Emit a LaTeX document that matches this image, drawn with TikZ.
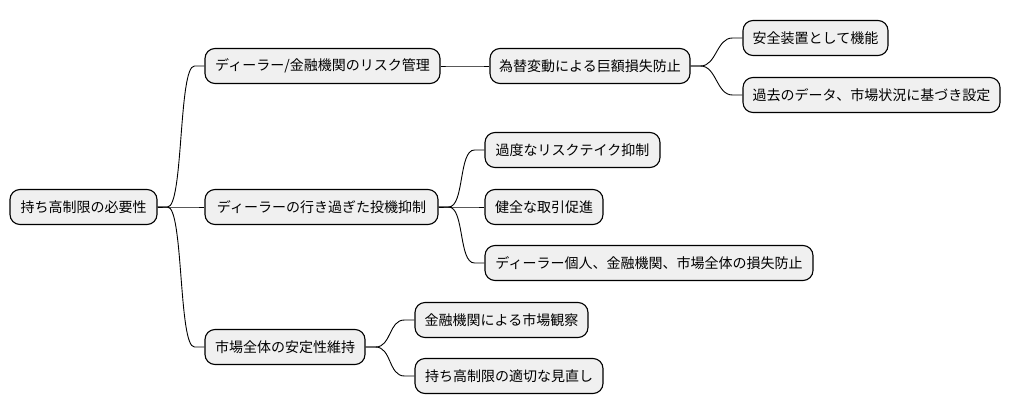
\documentclass[tikz,border=0pt]{standalone}
\usepackage{fontspec}
\setmainfont{Noto Sans CJK JP}
\newcommand\mmlink[2]{\draw[conn] (#1.east) -- ++(10,0) .. controls +(16,0) and ([xshift=-26pt]#2.west) .. ([xshift=-10pt]#2.west) -- (#2.west);}
\begin{document}
\begin{tikzpicture}[x=1pt,y=-1pt,
  box/.style={draw=black, line width=1.1pt, fill=gray!12, rounded corners=10pt,
    minimum height=35pt, inner sep=0pt, font=\fontsize{14}{16}\selectfont},
  conn/.style={draw=black, line width=0.9pt}]
\useasboundingbox (0,0) rectangle (1011,415);
\node[box, minimum width=147pt] (root) at (83.5,207) {持ち高制限の必要性};
\node[box, minimum width=235pt] (a) at (322.5,66) {ディーラー/金融機関のリスク管理};
\node[box, minimum width=233pt] (b) at (321.5,207) {ディーラーの行き過ぎた投機抑制};
\node[box, minimum width=160pt] (c) at (285,347) {市場全体の安定性維持};
\node[box, minimum width=200pt] (a1) at (590,66) {為替変動による巨額損失防止};
\node[box, minimum width=145pt] (a1a) at (815.5,38) {安全装置として機能};
\node[box, minimum width=257pt] (a1b) at (871.5,95) {過去のデータ、市場状況に基づき設定};
\node[box, minimum width=175pt] (b1) at (572.5,150) {過度なリスクテイク抑制};
\node[box, minimum width=118pt] (b2) at (544,207) {健全な取引促進};
\node[box, minimum width=328pt] (b3) at (649,263) {ディーラー個人、金融機関、市場全体の損失防止};
\node[box, minimum width=173pt] (c1) at (501.5,320) {金融機関による市場観察};
\node[box, minimum width=188pt] (c2) at (509,376) {持ち高制限の適切な見直し};
\mmlink{root}{a}
\mmlink{root}{b}
\mmlink{root}{c}
\mmlink{a}{a1}
\mmlink{a1}{a1a}
\mmlink{a1}{a1b}
\mmlink{b}{b1}
\mmlink{b}{b2}
\mmlink{b}{b3}
\mmlink{c}{c1}
\mmlink{c}{c2}
\end{tikzpicture}
\end{document}
